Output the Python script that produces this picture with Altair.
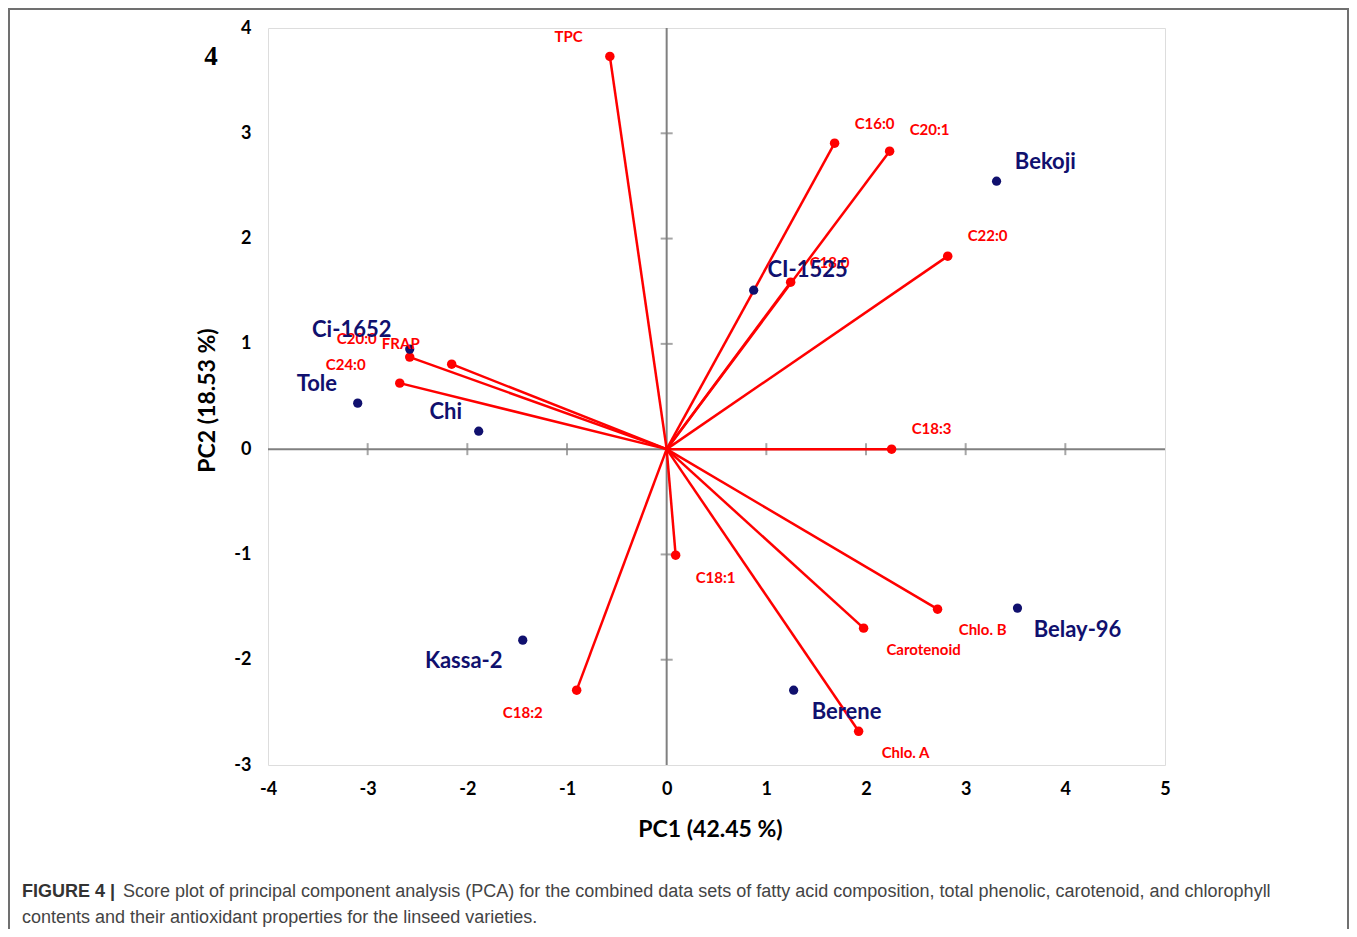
import altair as alt
import pandas as pd

# Loadings (variables)
var_names = ["TPC", "C16:0", "C20:1", "C22:0", "C18:0", "C18:3", "Chlo. B",
             "Carotenoid", "Chlo. A", "C18:1", "C18:2", "FRAP", "C20:0", "C24:0"]
var_pc1 = [-0.57, 1.685, 2.237, 2.82, 1.244, 2.257, 2.718, 1.976, 1.926, 0.09, -0.903, -2.157, -2.578, -2.678]
var_pc2 = [3.73, 2.906, 2.83, 1.833, 1.586, 0.0, -1.52, -1.70, -2.68, -1.007, -2.289, 0.807, 0.874, 0.627]
var_lab_x = [-0.983, 2.086, 2.638, 3.22, 1.635, 2.658, 3.17, 2.578, 2.397, 0.491, -1.444, -2.668, -3.109, -3.22]
var_lab_y = [3.913, 3.086, 3.03, 2.023, 1.766, 0.19, -1.719, -1.909, -2.887, -1.225, -2.507, 0.997, 1.045, 0.798]

# Scores (varieties)
obs_names = ["Bekoji", "CI-1525", "Ci-1652", "Tole", "Chi", "Kassa-2", "Berene", "Belay-96"]
obs_pc1 = [3.31, 0.873, -2.578, -3.10, -1.886, -1.444, 1.274, 3.52]
obs_pc2 = [2.545, 1.51, 0.95, 0.437, 0.171, -1.814, -2.289, -1.51]
obs_lab_x = [3.80, 1.414, -3.16, -3.51, -2.217, -2.036, 1.805, 4.122]
obs_lab_y = [2.726, 1.70, 1.13, 0.617, 0.351, -2.013, -2.498, -1.719]

x_ticks = [-3, -2, -1, 1, 2, 3, 4]
y_ticks = [-2, -1, 1, 2, 3]

RED = "#FF0000"
NAVY = "#10106E"
GRAY = "#808080"

vars_df = pd.DataFrame({"name": var_names, "pc1": var_pc1, "pc2": var_pc2,
                        "lx": var_lab_x, "ly": var_lab_y})
obs_df = pd.DataFrame({"name": obs_names, "pc1": obs_pc1, "pc2": obs_pc2,
                       "lx": obs_lab_x, "ly": obs_lab_y})
xt_df = pd.DataFrame({"v": x_ticks})
yt_df = pd.DataFrame({"v": y_ticks})

xscale = alt.Scale(domain=[-4, 5], nice=False, zero=False)
yscale = alt.Scale(domain=[-3, 4], nice=False, zero=False)

xaxis = alt.Axis(values=list(range(-4, 6)), title="PC1 (42.45 %)", grid=False, domain=False,
                 ticks=False, labelExpr="'' + datum.value", labelFont="Lato", labelFontWeight="bold",
                 labelFontSize=18, labelColor="#000000", labelPadding=15, titleFont="Lato",
                 titleFontSize=23, titleFontWeight="bold", titleColor="#000000", titlePadding=20,
                 titleX=442, titleAlign="center", labelFlush=False)
yaxis = alt.Axis(values=list(range(-3, 5)), title="PC2 (18.53 %)", grid=False, domain=False,
                 ticks=False, labelExpr="'' + datum.value", labelFont="Lato", labelFontWeight="bold",
                 labelFontSize=18, labelColor="#000000", labelPadding=17, titleFont="Lato",
                 titleFontSize=23, titleFontWeight="bold", titleColor="#000000", titlePadding=14,
                 titleY=372, titleAlign="center", labelFlush=False)

base_frame = alt.Chart(pd.DataFrame({"a": [0]}))

zero_v = base_frame.mark_rule(color=GRAY, strokeWidth=2).encode(
    x=alt.datum(0, scale=xscale, axis=xaxis))
zero_h = base_frame.mark_rule(color=GRAY, strokeWidth=2).encode(
    y=alt.datum(0, scale=yscale, axis=yaxis))

xt = alt.Chart(xt_df).mark_tick(orient="vertical", size=12, thickness=2, color=GRAY).encode(
    x=alt.X("v:Q", scale=xscale), y=alt.datum(0, scale=yscale))
yt = alt.Chart(yt_df).mark_tick(orient="horizontal", size=12, thickness=2, color=GRAY).encode(
    y=alt.Y("v:Q", scale=yscale), x=alt.datum(0, scale=xscale))

rules = alt.Chart(vars_df).mark_rule(color=RED, strokeWidth=2.5).encode(
    x=alt.X("pc1:Q", scale=xscale), y=alt.Y("pc2:Q", scale=yscale),
    x2=alt.datum(0), y2=alt.datum(0))
var_pts = alt.Chart(vars_df).mark_point(filled=True, color=RED, size=90, opacity=1).encode(
    x=alt.X("pc1:Q", scale=xscale), y=alt.Y("pc2:Q", scale=yscale))
var_txt = alt.Chart(vars_df).mark_text(color=RED, font="Lato", fontWeight="bold", fontSize=15,
                                       align="center", baseline="middle").encode(
    x=alt.X("lx:Q", scale=xscale), y=alt.Y("ly:Q", scale=yscale), text="name:N")

obs_pts = alt.Chart(obs_df).mark_point(filled=True, color=NAVY, size=85, opacity=1).encode(
    x=alt.X("pc1:Q", scale=xscale), y=alt.Y("pc2:Q", scale=yscale))
obs_txt = alt.Chart(obs_df).mark_text(color=NAVY, font="Lato", fontWeight="bold", fontSize=22,
                                      align="center", baseline="middle").encode(
    x=alt.X("lx:Q", scale=xscale), y=alt.Y("ly:Q", scale=yscale), text="name:N")

outer = base_frame.mark_rect(fill=None, filled=False, stroke="#707070", strokeWidth=2).encode(
    x=alt.value(-259), x2=alt.value(1080), y=alt.value(-19), y2=alt.value(960))

panel = base_frame.mark_text(text="4", font="Liberation Serif", fontWeight="bold", fontSize=27,
                             color="#000000", align="center", baseline="middle").encode(
    x=alt.value(-57), y=alt.value(29))

cap_bold = base_frame.mark_text(text="FIGURE 4 |", font="Liberation Sans", fontWeight="bold",
                                fontSize=18, color="#333333", align="left", baseline="middle").encode(
    x=alt.value(-246), y=alt.value(864))
cap_1 = base_frame.mark_text(
    text="Score plot of principal component analysis (PCA) for the combined data sets of fatty acid composition, total phenolic, carotenoid, and chlorophyll",
    font="Liberation Sans", fontSize=18, color="#444444", align="left", baseline="middle").encode(
    x=alt.value(-145), y=alt.value(864))
cap_2 = base_frame.mark_text(
    text="contents and their antioxidant properties for the linseed varieties.",
    font="Liberation Sans", fontSize=18, color="#444444", align="left", baseline="middle").encode(
    x=alt.value(-246), y=alt.value(890))

chart = alt.layer(
    zero_v, zero_h, xt, yt, rules, var_pts, obs_pts, var_txt, obs_txt,
    outer, panel, cap_bold, cap_1, cap_2
).properties(
    width=897, height=737,
    autosize=alt.AutoSizeParams(type="none"),
    padding={"left": 260, "top": 20, "right": 184, "bottom": 164},
).configure_view(stroke=GRAY, strokeWidth=2).configure(background="white")

chart.save("out.html", embed_options={"renderer": "svg", "actions": False})
